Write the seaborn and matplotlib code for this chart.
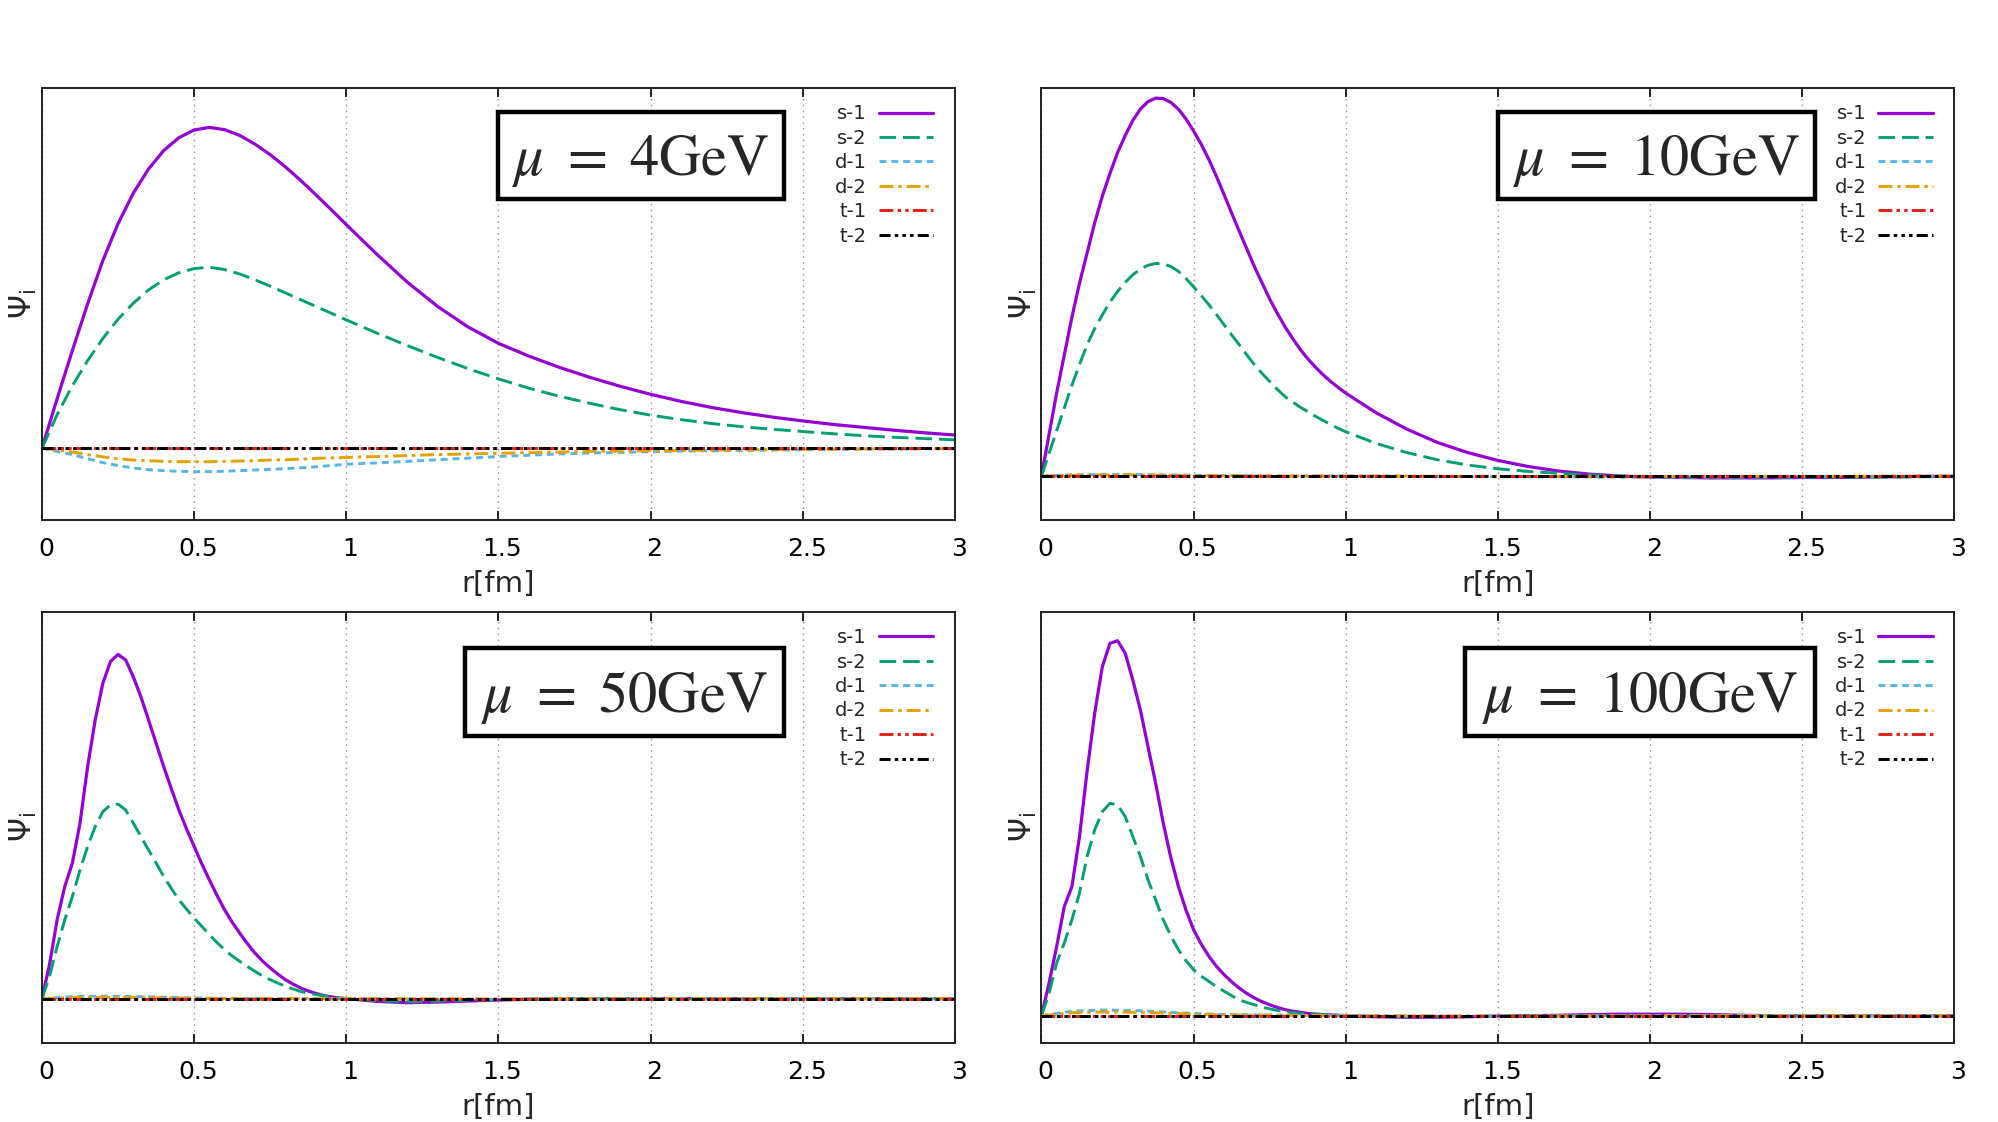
import numpy as np
import pandas as pd
import matplotlib
matplotlib.use("Agg")
import matplotlib.pyplot as plt
import matplotlib.transforms as mtransforms
from matplotlib.patches import Rectangle
import seaborn as sns

sns.set_style("white")
plt.rcParams['font.family'] = ['DejaVu Sans']
plt.rcParams['mathtext.fontset'] = 'dejavusans'
plt.rcParams['lines.scale_dashes'] = False

states = ['s-1', 's-2', 'd-1', 'd-2', 't-1', 't-2']
mu_labels = [r'$\mu\ =\ 4\mathrm{GeV}$', r'$\mu\ =\ 10\mathrm{GeV}$',
             r'$\mu\ =\ 50\mathrm{GeV}$', r'$\mu\ =\ 100\mathrm{GeV}$']

# r grids [fm]
r_wide = [0, 0.05, 0.1, 0.15, 0.2, 0.25, 0.3, 0.35, 0.4, 0.45, 0.5, 0.55, 0.6, 0.65, 0.7,
          0.75, 0.8, 0.85, 0.9, 0.95, 1.0, 1.1, 1.2, 1.3, 1.4, 1.5, 1.6, 1.7, 1.8, 1.9, 2.0,
          2.1, 2.2, 2.3, 2.4, 2.5, 2.6, 2.7, 2.8, 2.9, 3.0]
r_narrow = [0, 0.025, 0.05, 0.075, 0.1, 0.125, 0.15, 0.175, 0.2, 0.225, 0.25, 0.275, 0.3,
            0.325, 0.35, 0.375, 0.4, 0.425, 0.45, 0.475, 0.5, 0.525, 0.55, 0.575, 0.6, 0.625,
            0.65, 0.675, 0.7, 0.725, 0.75, 0.775, 0.8, 0.825, 0.85, 0.875, 0.9, 0.925, 0.95,
            0.975, 1.0, 1.1, 1.2, 1.3, 1.4, 1.5, 1.6, 1.7, 1.8, 1.9, 2.0, 2.1, 2.2, 2.3, 2.4,
            2.5, 2.6, 2.7, 2.8, 2.9, 3.0]
r_coarse = [0, 0.1, 0.2, 0.3, 0.4, 0.5, 0.6, 0.8, 1.0, 1.5, 2.0, 2.5, 3.0]

# mu = 4 GeV  (r_wide)
p1_s1 = [0, 0.155, 0.305, 0.45, 0.585, 0.70, 0.795, 0.87, 0.928, 0.968, 0.992, 1.0, 0.993,
         0.975, 0.948, 0.915, 0.877, 0.835, 0.79, 0.744, 0.697, 0.605, 0.518, 0.442, 0.378,
         0.327, 0.287, 0.252, 0.221, 0.193, 0.168, 0.146, 0.127, 0.111, 0.097, 0.085, 0.074,
         0.065, 0.056, 0.048, 0.041]
p1_s2 = [0, 0.105, 0.195, 0.273, 0.342, 0.402, 0.452, 0.493, 0.525, 0.547, 0.56, 0.564, 0.557,
         0.543, 0.525, 0.505, 0.484, 0.463, 0.442, 0.421, 0.40, 0.359, 0.32, 0.283, 0.248,
         0.216, 0.187, 0.162, 0.14, 0.12, 0.103, 0.089, 0.077, 0.067, 0.059, 0.052, 0.045,
         0.039, 0.034, 0.030, 0.026]
p1_d1 = [0, -0.01, -0.02, -0.033, -0.045, -0.054, -0.062, -0.067, -0.07, -0.072, -0.073,
         -0.073, -0.072, -0.07, -0.068, -0.066, -0.064, -0.061, -0.058, -0.054, -0.05, -0.046,
         -0.041, -0.036, -0.031, -0.026, -0.022, -0.018, -0.015, -0.013, -0.011, -0.009,
         -0.008, -0.007, -0.006, -0.005, -0.004, -0.003, -0.003, -0.002, -0.002]
p1_d2 = [0, -0.006, -0.012, -0.02, -0.027, -0.033, -0.037, -0.039, -0.041, -0.042, -0.042,
         -0.042, -0.041, -0.04, -0.039, -0.037, -0.036, -0.034, -0.032, -0.03, -0.029, -0.026,
         -0.023, -0.02, -0.018, -0.016, -0.014, -0.012, -0.01, -0.009, -0.008, -0.007, -0.006,
         -0.005, -0.004, -0.003, -0.003, -0.002, -0.002, -0.001, -0.001]

# mu = 10 GeV  (r_narrow)
p2_s1 = [0, 0.11, 0.22, 0.32, 0.42, 0.51, 0.59, 0.67, 0.74, 0.80, 0.855, 0.90, 0.94, 0.97,
         0.99, 0.999, 0.998, 0.988, 0.97, 0.944, 0.912, 0.877, 0.837, 0.792, 0.744, 0.695,
         0.647, 0.60, 0.553, 0.51, 0.468, 0.43, 0.395, 0.364, 0.335, 0.31, 0.288, 0.268, 0.25,
         0.234, 0.219, 0.167, 0.124, 0.089, 0.062, 0.041, 0.025, 0.013, 0.005, 0.0, -0.003,
         -0.004, -0.005, -0.005, -0.005, -0.004, -0.004, -0.003, -0.002, -0.001, -0.001]
p2_s2 = [0, 0.06, 0.12, 0.18, 0.24, 0.295, 0.347, 0.39, 0.426, 0.46, 0.488, 0.512, 0.532,
         0.547, 0.557, 0.562, 0.561, 0.554, 0.541, 0.522, 0.50, 0.477, 0.453, 0.427, 0.40,
         0.373, 0.347, 0.32, 0.294, 0.271, 0.25, 0.229, 0.21, 0.196, 0.182, 0.17, 0.158,
         0.147, 0.136, 0.126, 0.117, 0.086, 0.062, 0.043, 0.029, 0.019, 0.012, 0.007, 0.003,
         0.0, -0.002, -0.003, -0.003, -0.003, -0.003, -0.003, -0.003, -0.003, -0.003, -0.002,
         -0.001]
p2_d1 = [0, 0.003, 0.004, 0.004, 0.003, 0.002, 0.001, 0, 0, -0.002, -0.003, -0.002, 0]
p2_d2 = [0, 0.002, 0.003, 0.003, 0.002, 0.001, 0.001, 0, 0, -0.001, -0.002, -0.001, 0]

# mu = 50 GeV  (r_narrow)
p3_s1 = [0, 0.10, 0.23, 0.326, 0.394, 0.51, 0.674, 0.81, 0.916, 0.979, 1.0, 0.984, 0.935,
         0.877, 0.81, 0.742, 0.674, 0.61, 0.548, 0.493, 0.442, 0.392, 0.345, 0.30, 0.258,
         0.222, 0.19, 0.16, 0.132, 0.109, 0.089, 0.071, 0.055, 0.042, 0.031, 0.022, 0.015,
         0.009, 0.005, 0.002, 0.0, -0.008, -0.012, -0.01, -0.007, -0.004, -0.002, -0.001, 0,
         0, 0, 0, 0, 0, 0, 0, 0, 0, 0, 0, 0]
p3_s2 = [0, 0.065, 0.152, 0.229, 0.297, 0.374, 0.442, 0.50, 0.543, 0.563, 0.565, 0.548, 0.51,
         0.471, 0.432, 0.394, 0.355, 0.32, 0.287, 0.26, 0.234, 0.21, 0.186, 0.163, 0.142,
         0.124, 0.108, 0.093, 0.079, 0.066, 0.055, 0.045, 0.036, 0.028, 0.021, 0.016, 0.012,
         0.008, 0.005, 0.002, 0.0, -0.006, -0.009, -0.007, -0.005, -0.003, -0.001, 0, 0, 0,
         0, 0, 0, 0, 0, 0, 0, 0, 0, 0, 0]
p3_d1 = [0, 0.006, 0.007, 0.006, 0.004, 0.002, 0.001, 0, 0, -0.002, 0, 0, 0]
p3_d2 = [0, 0.003, 0.004, 0.003, 0.002, 0.001, 0, 0, 0, -0.001, 0, 0, 0]

# mu = 100 GeV  (r_narrow)
p4_s1 = [0, 0.087, 0.184, 0.29, 0.343, 0.476, 0.65, 0.804, 0.927, 0.989, 0.996, 0.963, 0.892,
         0.812, 0.715, 0.618, 0.512, 0.42, 0.343, 0.28, 0.228, 0.19, 0.158, 0.131, 0.109,
         0.09, 0.073, 0.059, 0.047, 0.037, 0.029, 0.022, 0.016, 0.012, 0.009, 0.006, 0.004,
         0.003, 0.002, 0.001, 0.0, -0.003, -0.004, -0.004, -0.003, -0.001, 0, 0.001, 0.003,
         0.004, 0.004, 0.004, 0.003, 0.001, 0, 0, 0, 0, 0, 0, 0]
p4_s2 = [0, 0.06, 0.14, 0.193, 0.255, 0.326, 0.423, 0.494, 0.542, 0.564, 0.56, 0.529, 0.476,
         0.423, 0.361, 0.308, 0.255, 0.212, 0.175, 0.146, 0.122, 0.105, 0.091, 0.077, 0.065,
         0.053, 0.042, 0.035, 0.029, 0.023, 0.018, 0.014, 0.011, 0.008, 0.006, 0.005, 0.004,
         0.003, 0.002, 0.001, 0.0, -0.002, -0.003, -0.003, -0.002, -0.001, 0, 0, 0, 0, 0, 0,
         0, 0, 0, 0, 0, 0, 0, 0, 0]
p4_d1 = [0, 0.012, 0.015, 0.014, 0.01, 0.006, 0.003, 0.001, 0, -0.002, 0, 0, 0]
p4_d2 = [0, 0.008, 0.01, 0.009, 0.007, 0.004, 0.002, 0.001, 0, -0.001, 0, 0, 0]

# t-1 / t-2 lie on zero in every panel
t_zero = [0, 0, 0, 0, 0, 0, 0, 0, 0, 0, 0, 0, 0]

colors = {'s-1': '#9400D3', 's-2': '#009E73', 'd-1': '#56B4E9',
          'd-2': '#E69F00', 't-1': '#E51E10', 't-2': '#000000'}
dash_map = {'s-1': '', 's-2': (12, 5), 'd-1': (5, 3.5), 'd-2': (10, 3.5, 2.5, 3.5),
            't-1': (10, 3, 2.5, 3, 2.5, 3), 't-2': (8, 3, 2.5, 3, 2.5, 3, 2.5, 3)}
widths = {'s-1': 2.3, 's-2': 2.1, 'd-1': 2.1, 'd-2': 2.1, 't-1': 2.1, 't-2': 2.1}


def make_df(curves):
    parts = []
    for name, (r, v) in zip(states, curves):
        parts.append(pd.DataFrame({'r': r, 'psi': v, 'state': name}))
    return pd.concat(parts, ignore_index=True)


panels = [
    dict(rect=[0.0210, 0.5365, 0.4567, 0.3851], ylim=(-0.224, 1.123), box=(0.4995, 0.8127, 0.743, 0.944),
         df=make_df([(r_wide, p1_s1), (r_wide, p1_s2), (r_wide, p1_d1), (r_wide, p1_d2),
                     (r_coarse, t_zero), (r_coarse, t_zero)])),
    dict(rect=[0.5210, 0.5365, 0.4567, 0.3851], ylim=(-0.1165, 1.026), box=(0.5001, 0.8478, 0.743, 0.944),
         df=make_df([(r_narrow, p2_s1), (r_narrow, p2_s2), (r_coarse, p2_d1), (r_coarse, p2_d2),
                     (r_coarse, t_zero), (r_coarse, t_zero)])),
    dict(rect=[0.0210, 0.0704, 0.4567, 0.3844], ylim=(-0.129, 1.124), box=(0.4637, 0.8127, 0.712, 0.9165),
         df=make_df([(r_narrow, p3_s1), (r_narrow, p3_s2), (r_coarse, p3_d1), (r_coarse, p3_d2),
                     (r_coarse, t_zero), (r_coarse, t_zero)])),
    dict(rect=[0.5210, 0.0704, 0.4567, 0.3844], ylim=(-0.0726, 1.073), box=(0.4638, 0.8478, 0.712, 0.9165),
         df=make_df([(r_narrow, p4_s1), (r_narrow, p4_s2), (r_coarse, p4_d1), (r_coarse, p4_d2),
                     (r_coarse, t_zero), (r_coarse, t_zero)])),
]

fig = plt.figure(figsize=(19.99, 11.22), dpi=100)
shift = mtransforms.ScaledTranslation(4 / 100, 0, fig.dpi_scale_trans)

for i0, p in enumerate(panels):
    ax = fig.add_axes(p['rect'])
    sns.lineplot(data=p['df'], x='r', y='psi', hue='state', style='state',
                 hue_order=states, style_order=states, palette=colors, dashes=dash_map,
                 estimator=None, sort=False, legend=False, ax=ax)
    lines = ax.get_lines()[:6]
    for line, name in zip(lines, states):
        line.set_linewidth(widths[name])

    ax.set_xlim(0, 3)
    ax.set_ylim(*p['ylim'])
    ax.set_xticks([0, 0.5, 1, 1.5, 2, 2.5, 3])
    ax.set_xticklabels(['0', '0.5', '1', '1.5', '2', '2.5', '3'])
    ax.set_yticks([])
    ax.tick_params(axis='x', direction='in', top=True, bottom=True, length=6.5, width=1.2,
                   labelsize=18, pad=12, colors='black')
    for lab in ax.get_xticklabels():
        lab.set_transform(lab.get_transform() + shift)
    ax.grid(axis='x', linestyle=(0, (1.2, 3)), color='#9a9a9a', linewidth=1.0)
    for sp in ax.spines.values():
        sp.set_linewidth(1.4)
        sp.set_color('#222222')
    ax.set_xlabel('r[fm]', fontsize=21, labelpad=7)
    ax.set_ylabel(r'$\Psi_\mathrm{i}$', fontsize=22, labelpad=2)

    ax.legend(handles=lines, labels=states, loc='upper right', bbox_to_anchor=(0.976, 0.962),
              frameon=False, markerfirst=False, fontsize=14, handlelength=2.8,
              handletextpad=0.6, labelspacing=0.28, borderpad=0, borderaxespad=0)

    x0, x1, y0, y1 = p['box']
    ax.add_patch(Rectangle((x0, y0), x1 - x0, y1 - y0, transform=ax.transAxes,
                           facecolor='white', edgecolor='black', linewidth=3.2, zorder=5))
    ax.text((x0 + x1) / 2, (y0 + y1) / 2 - 0.012, mu_labels[i0], transform=ax.transAxes,
            ha='center', va='center', fontsize=42, math_fontfamily='stix', zorder=6)

fig.savefig('out.png', dpi=100)
